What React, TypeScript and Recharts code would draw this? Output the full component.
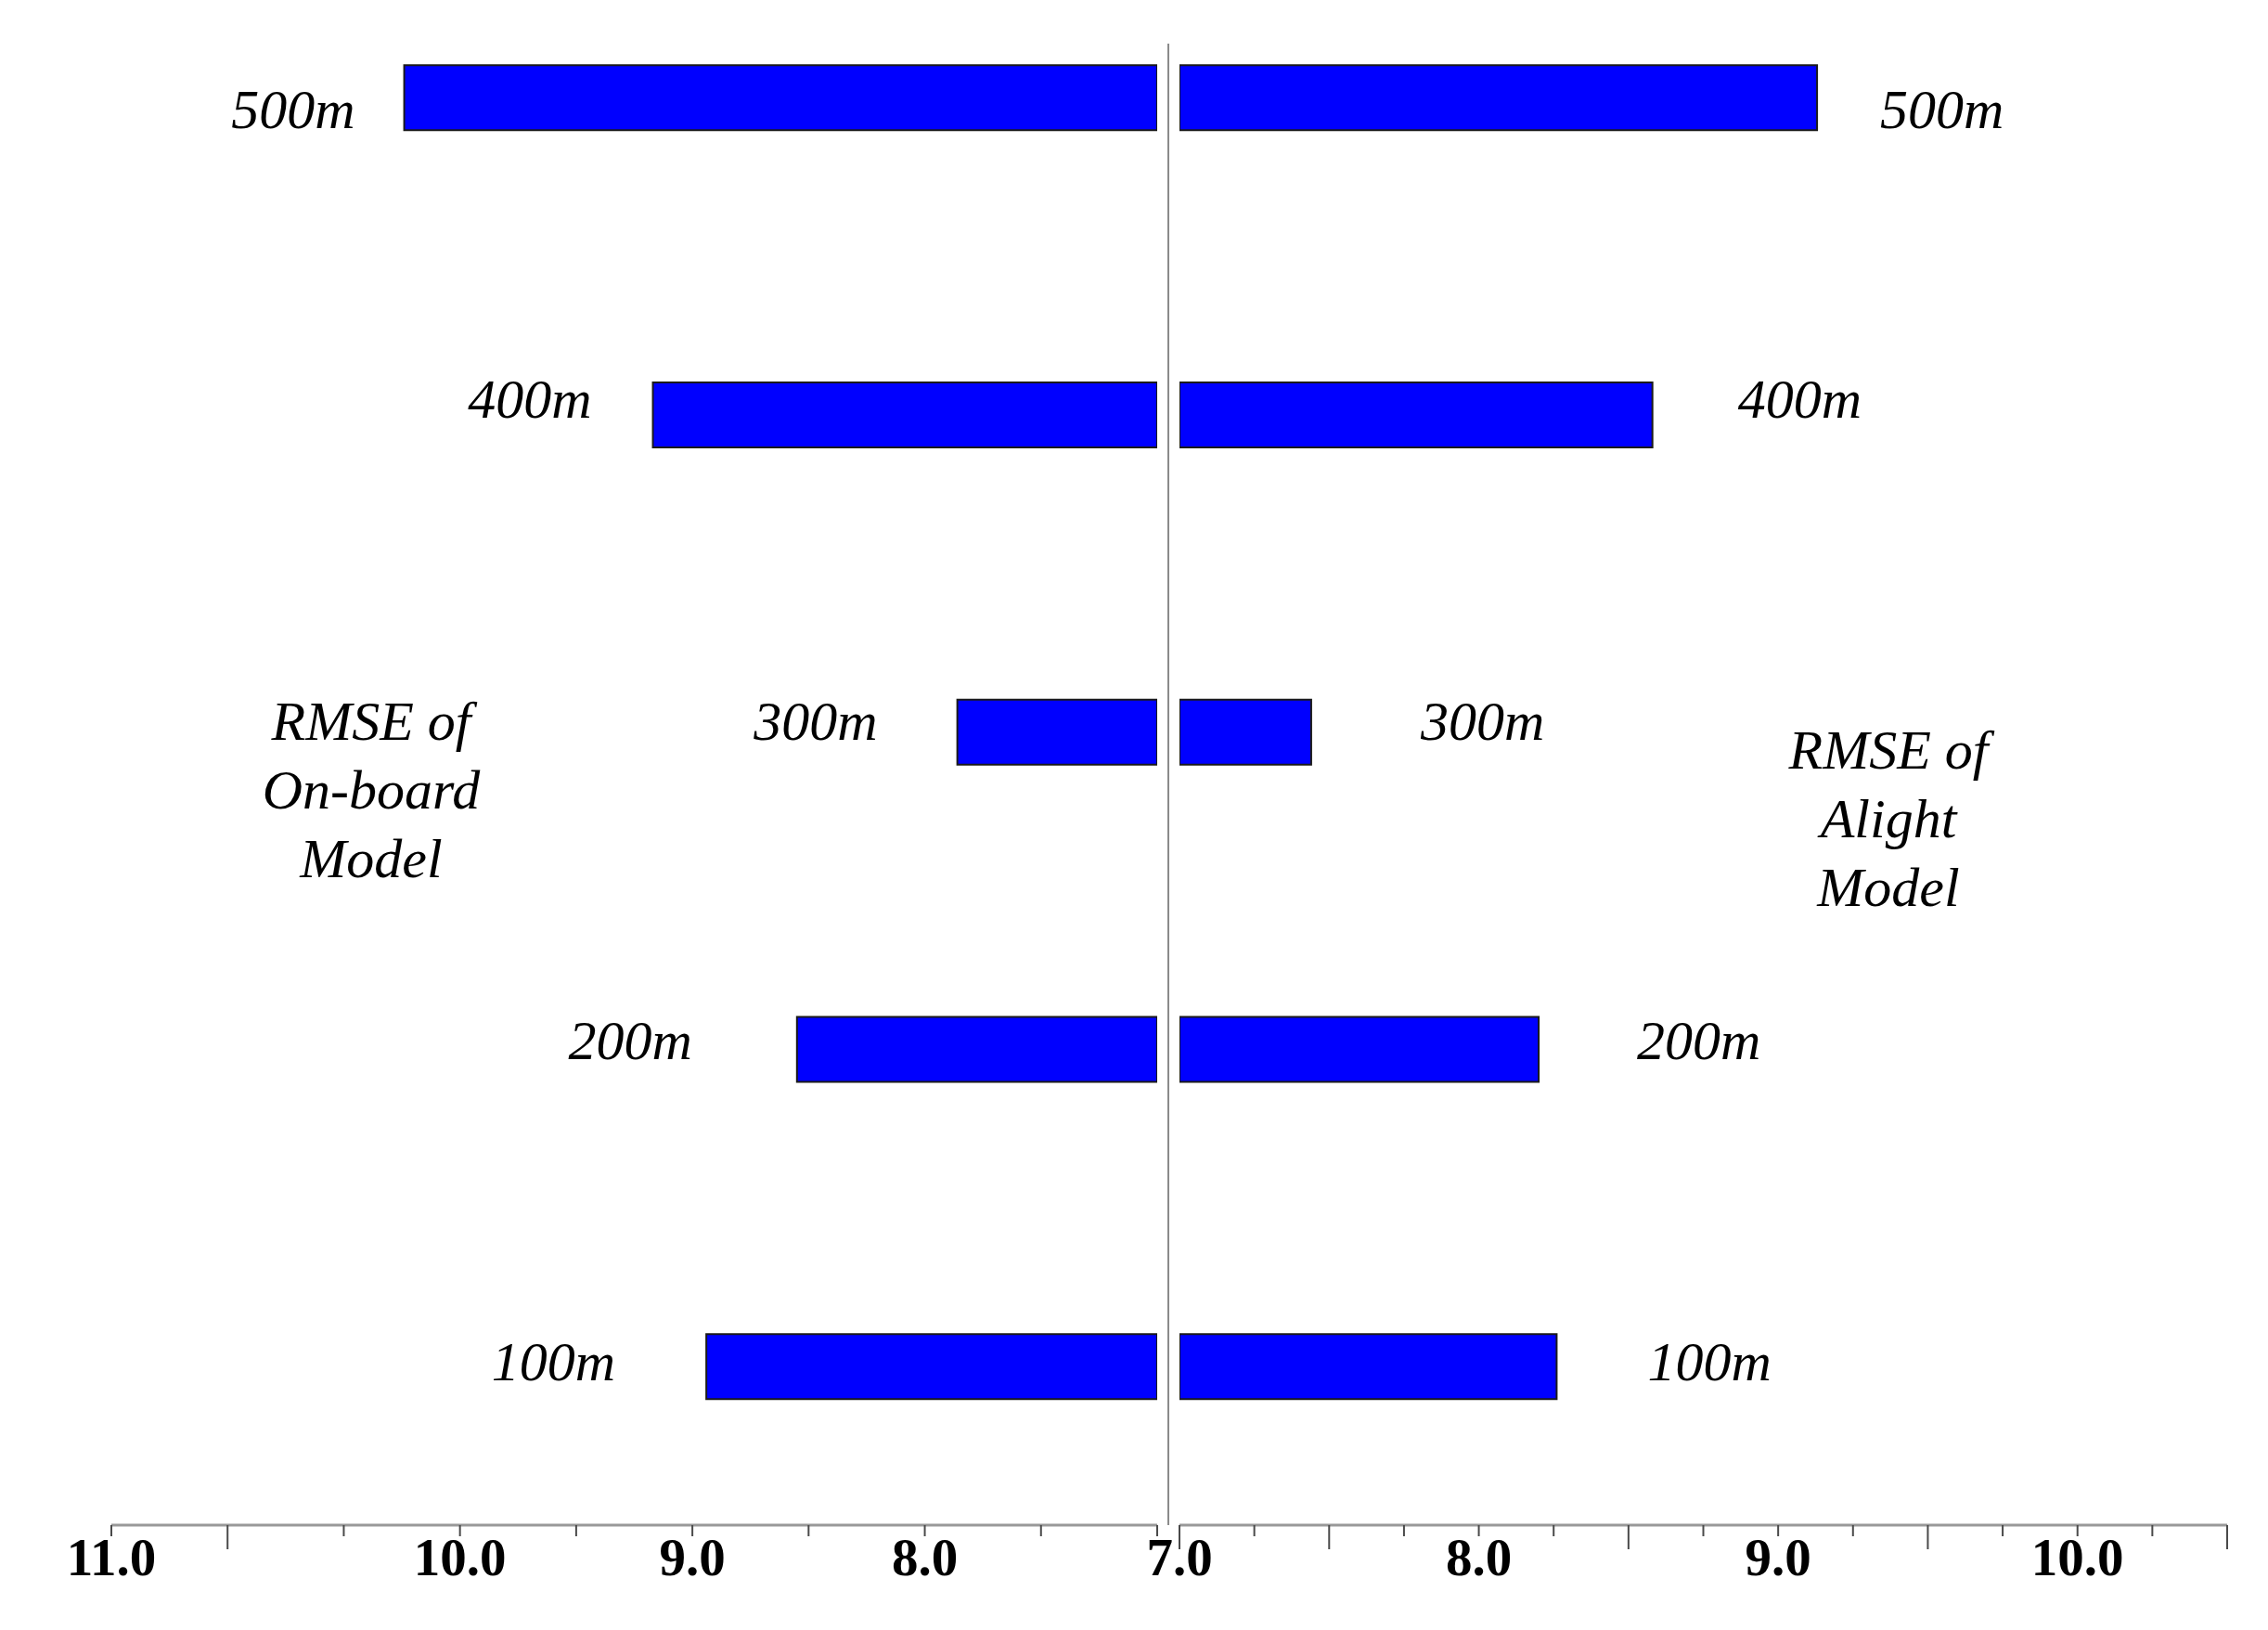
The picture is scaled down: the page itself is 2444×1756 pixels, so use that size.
import React from 'react';
import { BarChart, Bar, XAxis, YAxis, ReferenceLine, LabelList } from 'recharts';

// ---- data ----
const distanceLabels = ['500m', '400m', '300m', '200m', '100m'];
const distanceMeters = [500, 400, 300, 200, 100];
const onBoardRMSE = [10.24, 9.17, 7.86, 8.55, 8.94];
const alightRMSE = [9.13, 8.58, 7.44, 8.2, 8.26];

const leftTicks = [7, 7.5, 8, 8.5, 9, 9.5, 10, 10.5, 11, 11.5];
const leftTickLabels = ['', '', '8.0', '', '9.0', '', '10.0', '', '', '11.0'];
const leftLongTicks = [11];
const rightTicks = [7, 7.25, 7.5, 7.75, 8, 8.25, 8.5, 8.75, 9, 9.25, 9.5, 9.75, 10, 10.25, 10.5];
const rightTickLabels = ['7.0', '', '', '', '8.0', '', '', '', '9.0', '', '', '', '10.0', '', ''];
const rightLongTicks = [7, 7.5, 8.5, 9.5, 10.5];

const leftNote = ['RMSE of', 'On-board', 'Model'];
const rightNote = ['RMSE of', 'Alight', 'Model'];

// ---- label nudges (px), per row ----
const leftLabelGap = [53, 66, 86, 113, 98];
const rightLabelGap = [68, 92, 118, 106, 98];
const labelDy = [13, -17, -12, -9, -5];

const leftData = distanceMeters.map((d, i) => ({ dist: d, label: distanceLabels[i], value: onBoardRMSE[i] }));
const rightData = distanceMeters.map((d, i) => ({ dist: d, label: distanceLabels[i], value: alightRMSE[i] }));

const SERIF = "'Liberation Serif', 'DejaVu Serif', serif";
const BLUE = '#0000FF';

const same = (a: number, b: number) => Math.abs(a - b) < 1e-9;

function makeTick(ticks: number[], labels: string[], longs: number[]) {
  return (props: any) => {
    const { x, y, payload } = props;
    const v = payload.value;
    const idx = ticks.findIndex((t) => same(t, v));
    const label = idx >= 0 ? labels[idx] : '';
    const long = longs.some((t) => same(t, v));
    return (
      <g>
        <line x1={x} x2={x} y1={y} y2={y + (long ? 26 : 12)} stroke="#4a4a4a" strokeWidth={2} />
        {label ? (
          <text x={x} y={y + 54} textAnchor="middle" fontFamily={SERIF} fontWeight="bold" fontSize={57} fill="#000">
            {label}
          </text>
        ) : null}
      </g>
    );
  };
}

function makeLabel(side: 'left' | 'right') {
  return (props: any) => {
    const vb = props.viewBox && props.viewBox.width !== undefined ? props.viewBox : props;
    const { x, y, width, height } = vb;
    const index = props.index ?? 0;
    const value = props.value;
    const l = Math.min(x, x + width);
    const r = Math.max(x, x + width);
    const cy = Math.min(y, y + height) + Math.abs(height) / 2;
    const baseY = cy + labelDy[index] + 20;
    const tx = side === 'left' ? l - leftLabelGap[index] : r + rightLabelGap[index];
    return (
      <text
        x={tx}
        y={baseY}
        textAnchor={side === 'left' ? 'end' : 'start'}
        fontFamily={SERIF}
        fontStyle="italic"
        fontSize={60}
        fill="#000"
      >
        {value}
      </text>
    );
  };
}

const noteStyle: React.CSSProperties = {
  position: 'absolute',
  width: 400,
  textAlign: 'center',
  fontFamily: SERIF,
  fontStyle: 'italic',
  fontSize: 60,
  lineHeight: '74px',
  color: '#000',
};

export default function App() {
  return (
    <div style={{ position: 'absolute', left: 0, top: 0, width: 2444, height: 1756, background: '#fff', overflow: 'hidden' }}>
      <div style={{ position: 'absolute', left: 0, top: 0 }}>
        <BarChart
          width={1300}
          height={1756}
          data={leftData}
          layout="vertical"
          margin={{ top: 47, right: 53, bottom: 23, left: 120 }}
        >
          <XAxis
            type="number"
            dataKey="value"
            reversed
            domain={[7, 11.5]}
            ticks={leftTicks}
            interval={0}
            height={90}
            tickSize={0}
            tickMargin={0}
            tickLine={false}
            axisLine={{ stroke: '#999', strokeWidth: 3 }}
            tick={makeTick(leftTicks, leftTickLabels, leftLongTicks)}
            allowDataOverflow
          />
          <YAxis type="number" dataKey="dist" domain={[50, 517]} reversed hide />
          <ReferenceLine x={6.952} stroke="#8a8a8a" strokeWidth={2} ifOverflow="visible" />
          <Bar dataKey="value" fill={BLUE} stroke="#1a1a1a" strokeWidth={2} barSize={70} isAnimationActive={false}>
            <LabelList dataKey="label" content={makeLabel('left')} />
          </Bar>
        </BarChart>
      </div>
      <div style={{ position: 'absolute', left: 1180, top: 0 }}>
        <BarChart
          width={1264}
          height={1756}
          data={rightData}
          layout="vertical"
          margin={{ top: 47, right: 44, bottom: 23, left: 91 }}
        >
          <XAxis
            type="number"
            dataKey="value"
            domain={[7, 10.5]}
            ticks={rightTicks}
            interval={0}
            height={90}
            tickSize={0}
            tickMargin={0}
            tickLine={false}
            axisLine={{ stroke: '#999', strokeWidth: 3 }}
            tick={makeTick(rightTicks, rightTickLabels, rightLongTicks)}
            allowDataOverflow
          />
          <YAxis type="number" dataKey="dist" domain={[50, 517]} reversed hide />
          <Bar dataKey="value" fill={BLUE} stroke="#1a1a1a" strokeWidth={2} barSize={70} isAnimationActive={false}>
            <LabelList dataKey="label" content={makeLabel('right')} />
          </Bar>
        </BarChart>
      </div>
      <div style={{ ...noteStyle, left: 200, top: 740 }}>
        {leftNote.map((t) => (
          <div key={t}>{t}</div>
        ))}
      </div>
      <div style={{ ...noteStyle, left: 1835, top: 771 }}>
        {rightNote.map((t) => (
          <div key={t}>{t}</div>
        ))}
      </div>
    </div>
  );
}
